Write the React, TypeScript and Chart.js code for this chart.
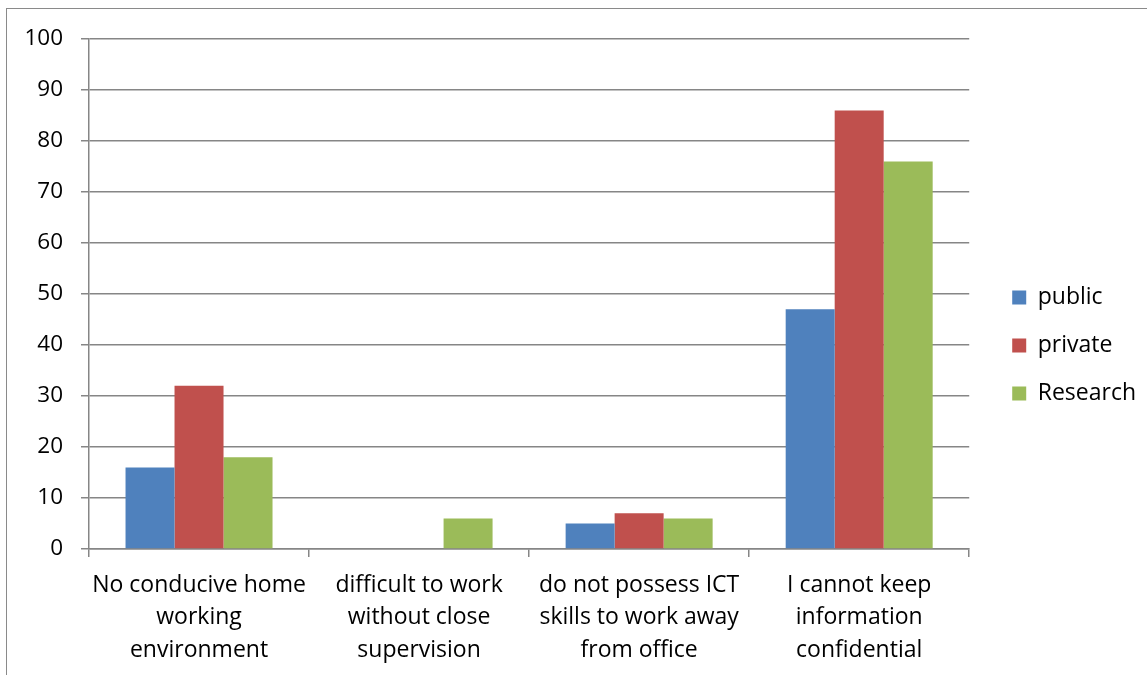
import React, { useEffect, useRef } from "react";
import { Chart, registerables } from "chart.js";

Chart.register(...registerables);

const categories: string[][] = [
  ["No conducive home", "working", "environment"],
  ["difficult to work", "without close", "supervision"],
  ["do not possess ICT", "skills to work away", "from office"],
  ["I cannot keep", "information", "confidential"],
];
const seriesNames = ["public", "private", "Research"];
const publicValues = [16, 0, 5, 47];
const privateValues = [32, 0, 7, 86];
const researchValues = [18, 6, 6, 76];
const seriesColors = ["#4F81BD", "#C0504D", "#9BBB59"];
const yMin = 0;
const yMax = 100;
const yStep = 10;

const FONT = "'Open Sans', 'Noto Sans', sans-serif";
const GRID = "#868686";

export default function App() {
  const ref = useRef<HTMLCanvasElement | null>(null);

  useEffect(() => {
    document.body.style.overflow = "hidden";
    const canvas = ref.current;
    if (!canvas) return;
    const chart = new Chart(canvas, {
      type: "bar",
      data: {
        labels: categories,
        datasets: [publicValues, privateValues, researchValues].map((vals, i) => ({
          label: seriesNames[i],
          data: vals,
          backgroundColor: seriesColors[i],
          borderWidth: 0,
          categoryPercentage: 0.668,
          barPercentage: 1,
        })),
      },
      options: {
        animation: false,
        responsive: false,
        devicePixelRatio: 1,
        layout: { padding: { left: 0, right: 1, top: 0, bottom: 0 } },
        plugins: {
          tooltip: { enabled: false },
          title: {
            display: true,
            text: " ",
            padding: 0,
            font: { size: 10, lineHeight: "35px" },
          },
          legend: {
            position: "right",
            labels: {
              boxWidth: 14,
              boxHeight: 14,
              padding: 43,
              color: "#000",
              font: { family: FONT, size: 23, lineHeight: "5px" },
              generateLabels: (ch: any) =>
                Chart.defaults.plugins.legend.labels
                  .generateLabels(ch)
                  .map((l: any) => ({ ...l, text: [l.text], lineWidth: 0 })),
            },
          },
        },
        scales: {
          x: {
            afterFit: (s: any) => {
              s.height = 120;
            },
            grid: {
              drawOnChartArea: false,
              offset: true,
              tickLength: 8,
              color: GRID,
              lineWidth: 1.5,
            },
            border: { color: GRID, width: 1.5 },
            ticks: {
              autoSkip: false,
              maxRotation: 0,
              minRotation: 0,
              padding: 12,
              color: "#000",
              font: { family: FONT, size: 23, lineHeight: 1.413 },
            },
          },
          y: {
            min: yMin,
            max: yMax,
            afterFit: (s: any) => {
              s.width = 81;
            },
            grid: { color: GRID, lineWidth: 1.5, tickLength: 8 },
            border: { color: GRID, width: 1.5 },
            ticks: {
              stepSize: yStep,
              padding: 18,
              color: "#000",
              font: { family: FONT, size: 22.5 },
            },
          },
        },
      },
    });
    return () => chart.destroy();
  }, []);

  return (
    <div>
      <div
        style={{
          position: "fixed",
          left: 6,
          top: 8,
          width: 1200,
          height: 720,
          borderLeft: "1px solid #8a8a8a",
          borderTop: "1px solid #8a8a8a",
          boxSizing: "border-box",
        }}
      />
      <canvas
        ref={ref}
        width={1139}
        height={665}
        style={{ position: "fixed", left: 8, top: 4, width: 1139, height: 665 }}
      />
    </div>
  );
}
